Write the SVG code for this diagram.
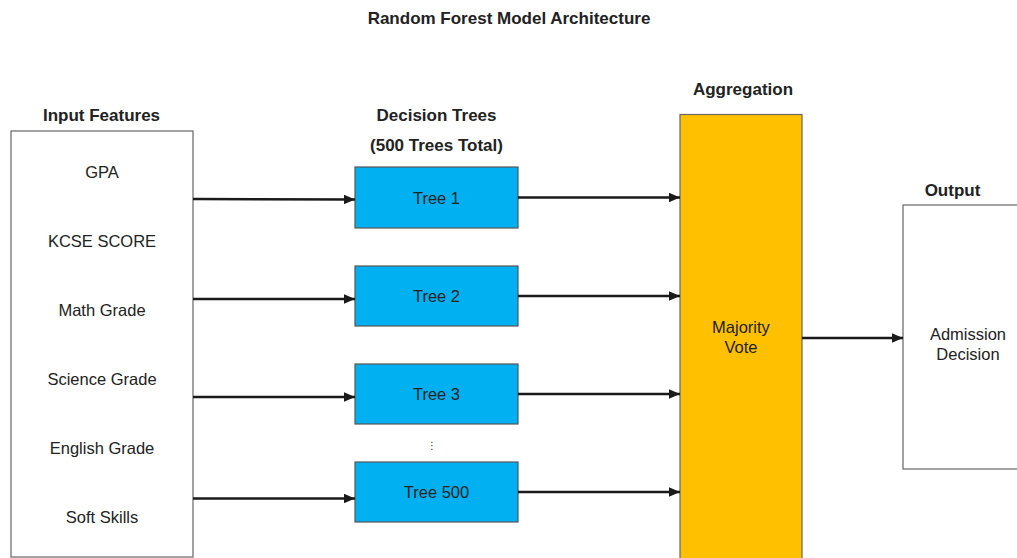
<svg xmlns="http://www.w3.org/2000/svg" width="1017" height="558" viewBox="0 0 1017 558">
  <style>
    .head { font-family: "Liberation Sans", Arial, sans-serif; font-weight: bold; font-size: 17px; fill: #222; text-anchor: middle; }
    .lbl { font-family: "Liberation Sans", Arial, sans-serif; font-size: 16.5px; fill: #222; text-anchor: middle; }
    .box { fill: #fff; stroke: #666; stroke-width: 1.2; }
    .tree { fill: #00B0F0; stroke: #555; stroke-width: 1.2; }
    .agg { fill: #FFC000; stroke: #666; stroke-width: 1.2; }
    .edge { stroke: #1a1a1a; stroke-width: 2.5; fill: none; marker-end: url(#arrow); }
  </style>
  <defs>
    <marker id="arrow" viewBox="0 0 10 10" refX="10" refY="5" markerWidth="4.4" markerHeight="3.8" orient="auto" markerUnits="strokeWidth" preserveAspectRatio="none">
      <path d="M0,0 L10,5 L0,10 z" fill="#1a1a1a"/>
    </marker>
  </defs>

  <rect width="1017" height="558" fill="#fff"/>

  <text class="head" x="509" y="24">Random Forest Model Architecture</text>

  <!-- input features -->
  <g id="input-features">
    <text class="head" x="101.5" y="121">Input Features</text>
    <rect class="box" x="11" y="131" width="182" height="426"/>
    <text class="lbl" x="102" y="178">GPA</text>
    <text class="lbl" x="102" y="247">KCSE SCORE</text>
    <text class="lbl" x="102" y="316">Math Grade</text>
    <text class="lbl" x="102" y="385">Science Grade</text>
    <text class="lbl" x="102" y="454">English Grade</text>
    <text class="lbl" x="102" y="523">Soft Skills</text>
  </g>

  <!-- decision trees -->
  <g id="trees-header">
    <text class="head" x="436.5" y="121">Decision Trees</text>
    <text class="head" x="436.5" y="151">(500 Trees Total)</text>
  </g>
  <g id="tree-1">
    <rect class="tree" x="355" y="167" width="163" height="61"/>
    <text class="lbl" x="436.5" y="204">Tree 1</text>
  </g>
  <g id="tree-2">
    <rect class="tree" x="355" y="266" width="163" height="60"/>
    <text class="lbl" x="436.5" y="302">Tree 2</text>
  </g>
  <g id="tree-3">
    <rect class="tree" x="355" y="364" width="163" height="60"/>
    <text class="lbl" x="436.5" y="400">Tree 3</text>
  </g>
  <g id="tree-ellipsis">
    <text x="432" y="449" font-family="DejaVu Sans, sans-serif" font-size="10" fill="#333" text-anchor="middle">⋮</text>
  </g>
  <g id="tree-500">
    <rect class="tree" x="355" y="462" width="163" height="60"/>
    <text class="lbl" x="436.5" y="498">Tree 500</text>
  </g>

  <!-- aggregation -->
  <g id="aggregation">
    <text class="head" x="743" y="95">Aggregation</text>
    <rect class="agg" x="680" y="114.5" width="122" height="450"/>
    <text class="lbl" x="741" y="333">Majority</text>
    <text class="lbl" x="741" y="353">Vote</text>
  </g>

  <!-- output -->
  <g id="output">
    <text class="head" x="952.5" y="196">Output</text>
    <rect class="box" x="903" y="205" width="130" height="264"/>
    <text class="lbl" x="968" y="340" font-size="17">Admission</text>
    <text class="lbl" x="968" y="360" font-size="17">Decision</text>
  </g>

  <!-- connectors -->
  <g id="connectors">
    <line class="edge" x1="193" y1="199" x2="355" y2="199.5"/>
    <line class="edge" x1="193" y1="299" x2="355" y2="299"/>
    <line class="edge" x1="193" y1="397" x2="355" y2="397"/>
    <line class="edge" x1="193" y1="498.5" x2="355" y2="498.5"/>
    <line class="edge" x1="518" y1="197.5" x2="680" y2="197.5"/>
    <line class="edge" x1="518" y1="296" x2="680" y2="296"/>
    <line class="edge" x1="518" y1="394" x2="680" y2="394"/>
    <line class="edge" x1="518" y1="492" x2="680" y2="492"/>
    <line class="edge" x1="802" y1="338" x2="903" y2="338"/>
  </g>
</svg>
